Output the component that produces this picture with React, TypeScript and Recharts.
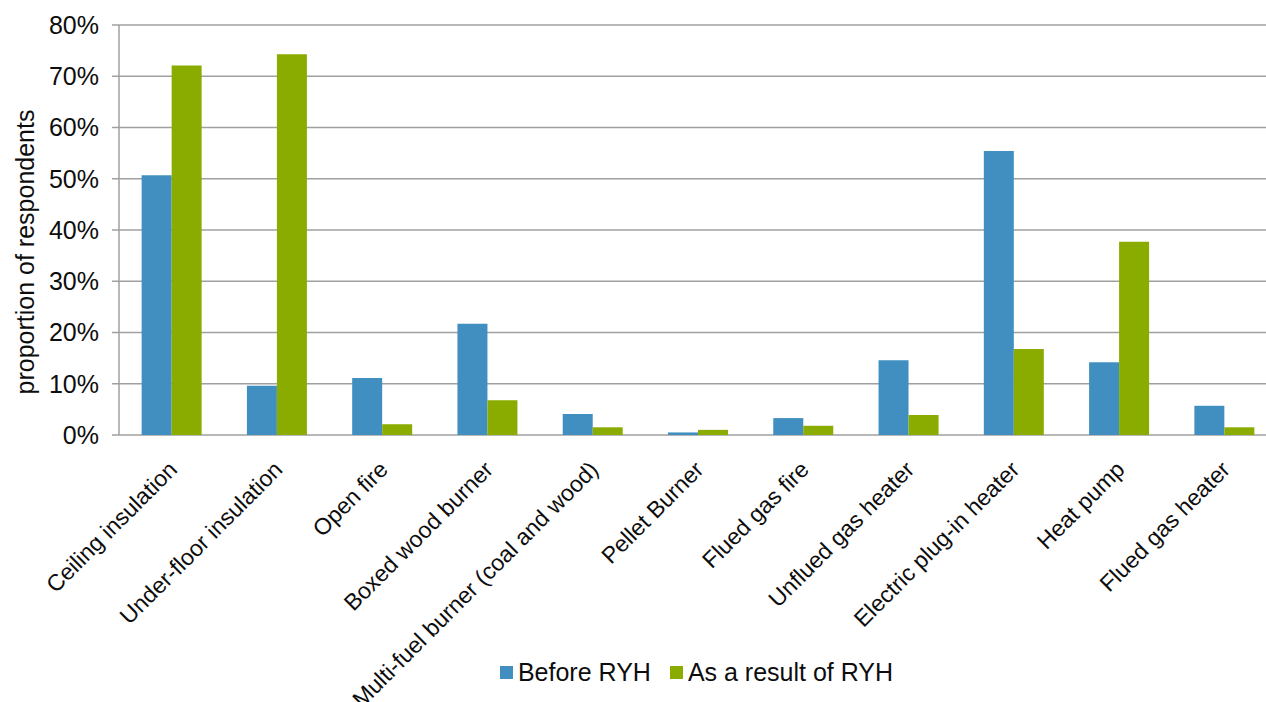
import React from "react";
import { BarChart, Bar, XAxis, YAxis, CartesianGrid, Legend } from "recharts";

const categories = [
  "Ceiling insulation",
  "Under-floor insulation",
  "Open fire",
  "Boxed wood burner",
  "Multi-fuel burner (coal and wood)",
  "Pellet Burner",
  "Flued gas fire",
  "Unflued gas heater",
  "Electric plug-in heater",
  "Heat pump",
  "Flued gas heater",
];
const beforeRyh = [50.7, 9.6, 11.1, 21.7, 4.1, 0.5, 3.3, 14.6, 55.4, 14.2, 5.7];
const resultOfRyh = [72.1, 74.3, 2.1, 6.8, 1.5, 1.0, 1.8, 3.9, 16.8, 37.7, 1.5];
const yTicks = [0, 10, 20, 30, 40, 50, 60, 70, 80];
const edgeTicks = [0, 1, 2, 3, 4, 5, 6, 7, 8, 9, 10, 11];

const BLUE = "#418FC0";
const GREEN = "#8AAB00";
const GRID = "#A0A0A0";
const TEXT = "#0d0d0d";

const rows = categories.map((name, idx) => ({
  name,
  idx,
  before: beforeRyh[idx],
  after: resultOfRyh[idx],
}));

// rotated category label, right end hanging just under its band centre
function CategoryTick({ x, y, payload }: any) {
  return (
    <g transform={`translate(${x + 7},${y + 36})`}>
      <text textAnchor="end" transform="rotate(-45)" fontSize={23} fill={TEXT}>
        {payload.value}
      </text>
    </g>
  );
}

function LegendBox() {
  const items = [
    { label: "Before RYH", color: BLUE },
    { label: "As a result of RYH", color: GREEN },
  ];
  return (
    <div
      style={{
        display: "flex",
        justifyContent: "center",
        paddingLeft: 113,
        position: "relative",
        top: 6,
        fontSize: 25,
        color: TEXT,
      }}
    >
      {items.map((it, i) => (
        <div key={it.label} style={{ display: "flex", alignItems: "center", marginRight: i === 0 ? 19 : 0 }}>
          <span style={{ width: 13, height: 13, background: it.color, marginRight: 5, display: "inline-block" }} />
          <span>{it.label}</span>
        </div>
      ))}
    </div>
  );
}

function YLabel({ viewBox }: any) {
  const cx = viewBox.x + 25;
  const cy = viewBox.y + viewBox.height / 2 + 22;
  return (
    <text
      x={cx}
      y={cy}
      transform={`rotate(-90, ${cx}, ${cy})`}
      textAnchor="middle"
      dominantBaseline="central"
      fontSize={25}
      fill={TEXT}
    >
      proportion of respondents
    </text>
  );
}

export default function App() {
  return (
    <div
      style={{
        position: "absolute",
        left: 0,
        top: 0,
        width: 1266,
        height: 702,
        overflow: "hidden",
        background: "#fff",
        fontFamily: "'Liberation Sans', Arial, sans-serif",
      }}
    >
      <BarChart
        width={1280}
        height={702}
        data={rows}
        margin={{ top: 25, right: 3, left: 0, bottom: 14 }}
        barCategoryGap="21.5%"
        barGap={0}
      >
        <CartesianGrid xAxisId="cat" vertical={false} stroke={GRID} strokeWidth={1.5} />
        <XAxis
          xAxisId="edges"
          dataKey="idx"
          type="number"
          domain={[0, categories.length]}
          allowDataOverflow
          ticks={edgeTicks}
          height={0}
          tickSize={7}
          tickFormatter={() => ""}
          stroke={GRID}
          strokeWidth={1.5}
        />
        <XAxis
          xAxisId="cat"
          dataKey="name"
          height={217}
          interval={0}
          tickLine={false}
          axisLine={false}
          tickSize={0}
          tickMargin={0}
          tick={<CategoryTick />}
        />
        <YAxis
          width={119}
          domain={[0, 80]}
          ticks={yTicks}
          interval={0}
          tickSize={7}
          tickMargin={13}
          tickFormatter={(v: number) => `${v}%`}
          tick={{ fill: TEXT, fontSize: 25 }}
          stroke={GRID}
          strokeWidth={1.5}
          label={{ content: YLabel }}
        />
        <Legend
          verticalAlign="bottom"
          height={36}
          wrapperStyle={{ left: 0, width: 1280, height: 36 }}
          content={() => <LegendBox />}
        />
        <Bar xAxisId="cat" dataKey="before" name="Before RYH" fill={BLUE} isAnimationActive={false} />
        <Bar xAxisId="cat" dataKey="after" name="As a result of RYH" fill={GREEN} isAnimationActive={false} />
      </BarChart>
    </div>
  );
}
